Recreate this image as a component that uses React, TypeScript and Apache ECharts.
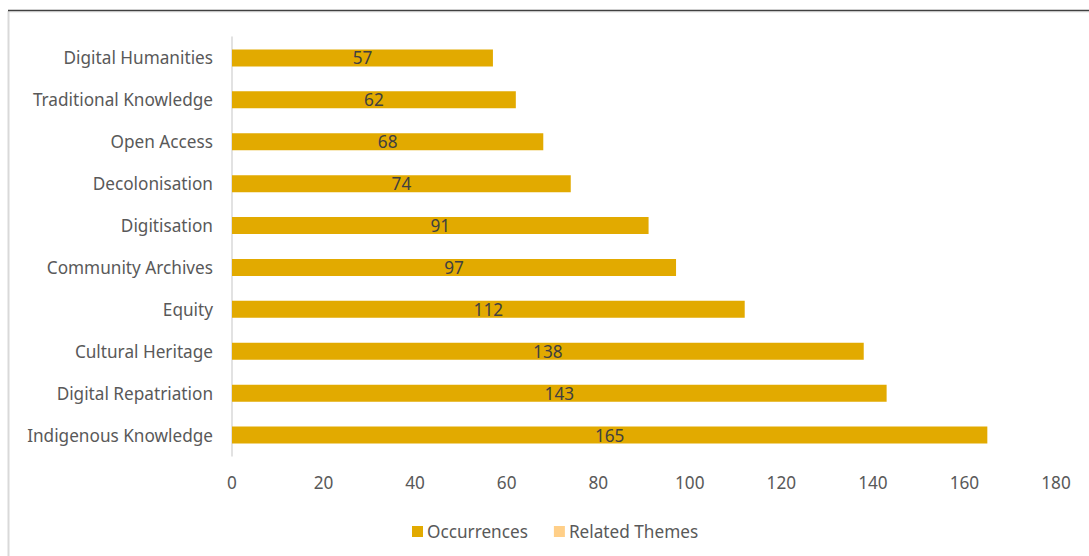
import React, { useEffect, useRef } from "react";
import * as echarts from "echarts";

const categories = [
  "Digital Humanities",
  "Traditional Knowledge",
  "Open Access",
  "Decolonisation",
  "Digitisation",
  "Community Archives",
  "Equity",
  "Cultural Heritage",
  "Digital Repatriation",
  "Indigenous Knowledge",
];
const occurrences = [57, 62, 68, 74, 91, 97, 112, 138, 143, 165];
const relatedThemes: (number | null)[] = [null, null, null, null, null, null, null, null, null, null];
const seriesNames = ["Occurrences", "Related Themes"];

const FONT = "Noto Sans";
const FS = 17.2;

export default function App() {
  const ref = useRef<HTMLDivElement>(null);
  useEffect(() => {
    if (!ref.current) return;
    const chart = echarts.init(ref.current, null, { renderer: "svg" });
    chart.setOption({
      animation: false,
      backgroundColor: "#ffffff",
      textStyle: { fontFamily: FONT },
      grid: { left: 232, right: 33, top: 37, bottom: 100, containLabel: false },
      legend: {
        data: seriesNames,
        left: 407,
        top: 518,
        itemWidth: 11,
        itemHeight: 11,
        itemGap: 26,
        icon: "rect",
        textStyle: { fontFamily: FONT, fontSize: FS, color: "#595959", padding: [0, 0, 0, -1] },
      },
      xAxis: {
        type: "value",
        min: 0,
        max: 180,
        interval: 20,
        axisLine: { show: false },
        axisTick: { show: false },
        splitLine: { show: false },
        axisLabel: { fontFamily: FONT, fontSize: FS, color: "#595959", margin: 18 },
      },
      yAxis: {
        type: "category",
        data: categories,
        inverse: true,
        axisLine: { show: true, lineStyle: { color: "#d9d9d9", width: 1.5 } },
        axisTick: { show: false },
        axisLabel: { fontFamily: FONT, fontSize: FS, color: "#595959", margin: 19 },
      },
      series: [
        {
          name: seriesNames[0],
          type: "bar",
          stack: "s",
          data: occurrences,
          barWidth: 17,
          itemStyle: { color: "#E2AA00" },
          label: {
            show: true,
            position: "inside",
            fontFamily: FONT,
            fontSize: FS,
            color: "#404040",
          },
        },
        {
          name: seriesNames[1],
          type: "bar",
          stack: "s",
          data: relatedThemes,
          barWidth: 17,
          itemStyle: { color: "#FFCF88" },
        },
      ],
      graphic: [
        {
          type: "line",
          shape: { x1: 8, y1: 12, x2: 1089, y2: 12 },
          style: { stroke: "#e6e6e6", lineWidth: 1 },
        },
        {
          type: "line",
          shape: { x1: 8.5, y1: 11, x2: 8.5, y2: 556 },
          style: { stroke: "#d9d9d9", lineWidth: 2 },
        },
        {
          type: "line",
          shape: { x1: 8, y1: 10.5, x2: 1089, y2: 10.5 },
          style: { stroke: "#404040", lineWidth: 1.5 },
        },
      ],
    });
    return () => chart.dispose();
  }, []);
  return (
    <div
      ref={ref}
      style={{ position: "fixed", left: 0, top: 0, width: 1089, height: 556 }}
    />
  );
}
